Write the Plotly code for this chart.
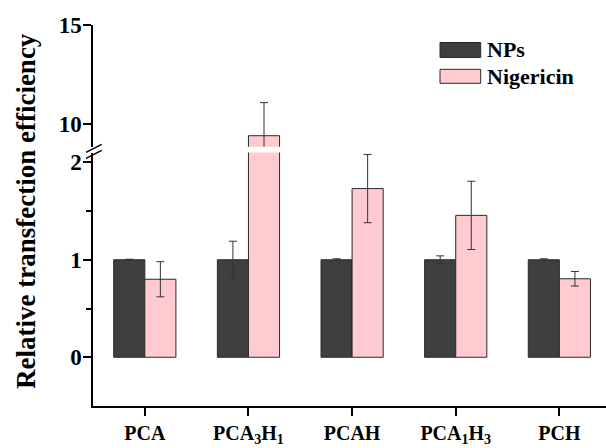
import plotly.graph_objects as go

categories = ["PCA", "PCA<sub>3</sub>H<sub>1</sub>", "PCAH", "PCA<sub>1</sub>H<sub>3</sub>", "PCH"]
nps_values = [1.0, 1.0, 1.0, 1.0, 1.0]
nps_errors = [0.005, 0.19, 0.01, 0.04, 0.01]
nig_values = [0.80, 9.41, 1.73, 1.455, 0.805]
nig_errors = [0.18, 1.67, 0.35, 0.35, 0.075]

lower_ticks = [0, 1, 2]
upper_ticks = [10, 15]

FONT = "Liberation Serif"
DARK = "#3f3f3f"
PINK = "#ffcbd0"
EDGE = "#2a2a2a"

W, H = 606, 448
L, R, T, B = 93, 0, 25, 42
pw, ph = W - L - R, H - T - B

def py(pix):
    return (H - B - pix) / ph

def px(pix):
    return (pix - L) / pw

fig = go.Figure()
for yax in ["y", "y2"]:
    fig.add_trace(go.Bar(
        x=categories, y=nps_values, name="NPs", yaxis=yax, xaxis="x",
        marker=dict(color=DARK, line=dict(color=EDGE, width=1)),
        error_y=dict(type="data", array=nps_errors, color="#333333", thickness=1, width=4),
        showlegend=False, offsetgroup="a", cliponaxis=True))
    fig.add_trace(go.Bar(
        x=categories, y=nig_values, name="Nigericin", yaxis=yax, xaxis="x",
        marker=dict(color=PINK, line=dict(color=EDGE, width=1)),
        error_y=dict(type="data", array=nig_errors, color="#333333", thickness=1, width=4),
        showlegend=False, offsetgroup="b", cliponaxis=True))

tickfont = dict(family=FONT, size=23, color="black", weight="bold")

fig.update_layout(
    width=W, height=H,
    margin=dict(l=L, r=R, t=T, b=B),
    paper_bgcolor="white", plot_bgcolor="white",
    barmode="group", bargap=0.4, bargroupgap=0,
    showlegend=False,
    xaxis=dict(
        type="category", range=[-0.5, 4.45], anchor="y",
        showline=True, linecolor="black", linewidth=1.5,
        ticks="outside", ticklen=8, tickwidth=1.5, tickcolor="black",
        tickfont=dict(family=FONT, size=20, color="black", weight="bold"),
        showgrid=False, zeroline=False),
    yaxis=dict(
        domain=[0, py(152.5)], range=[-0.5, 2.1],
        tickvals=lower_ticks, ticktext=[str(v) for v in lower_ticks],
        showline=True, linecolor="black", linewidth=1.5,
        ticks="outside", ticklen=8, tickwidth=1.5, tickcolor="black",
        ticklabelstandoff=-3,
        minor=dict(tickvals=[0.5, 1.5], ticks="outside", ticklen=5, tickwidth=1.5, tickcolor="black"),
        tickfont=tickfont, showgrid=False, zeroline=False, anchor="x"),
    yaxis2=dict(
        domain=[py(146.8), 1], range=[8.85, 15],
        tickvals=upper_ticks, ticktext=[str(v) for v in upper_ticks],
        showline=True, linecolor="black", linewidth=1.5,
        ticks="outside", ticklen=8, tickwidth=1.5, tickcolor="black",
        ticklabelstandoff=-3,
        tickfont=tickfont, showgrid=False, zeroline=False, anchor="x"),
)

# axis break marks
for dy in (0, 6):
    fig.add_shape(type="line", xref="paper", yref="paper",
                  x0=px(86), y0=py(152.3 + dy), x1=px(101.7), y1=py(144.3 + dy),
                  line=dict(color="black", width=1.5))

# legend (manual)
legend_items = [("NPs", DARK, 42.5, 57.5), ("Nigericin", PINK, 69.3, 83.3)]
for label, col, y0, y1 in legend_items:
    fig.add_shape(type="rect", xref="paper", yref="paper",
                  x0=px(440), x1=px(480.7), y0=py(y1), y1=py(y0),
                  fillcolor=col, line=dict(color=EDGE, width=1))
    fig.add_annotation(xref="paper", yref="paper", x=px(485), y=py((y0 + y1) / 2),
                       text=label, showarrow=False, xanchor="left", yanchor="middle",
                       font=dict(family=FONT, size=22, color="black", weight="bold"))

fig.add_annotation(xref="paper", yref="paper", x=px(26), y=py(211),
                   text="Relative transfection efficiency", textangle=-90,
                   showarrow=False, xanchor="center", yanchor="middle",
                   font=dict(family=FONT, size=27, color="black", weight="bold"))

fig.write_html("out.html", post_script="document.body.style.margin='0';",
               config={"displayModeBar": False})
